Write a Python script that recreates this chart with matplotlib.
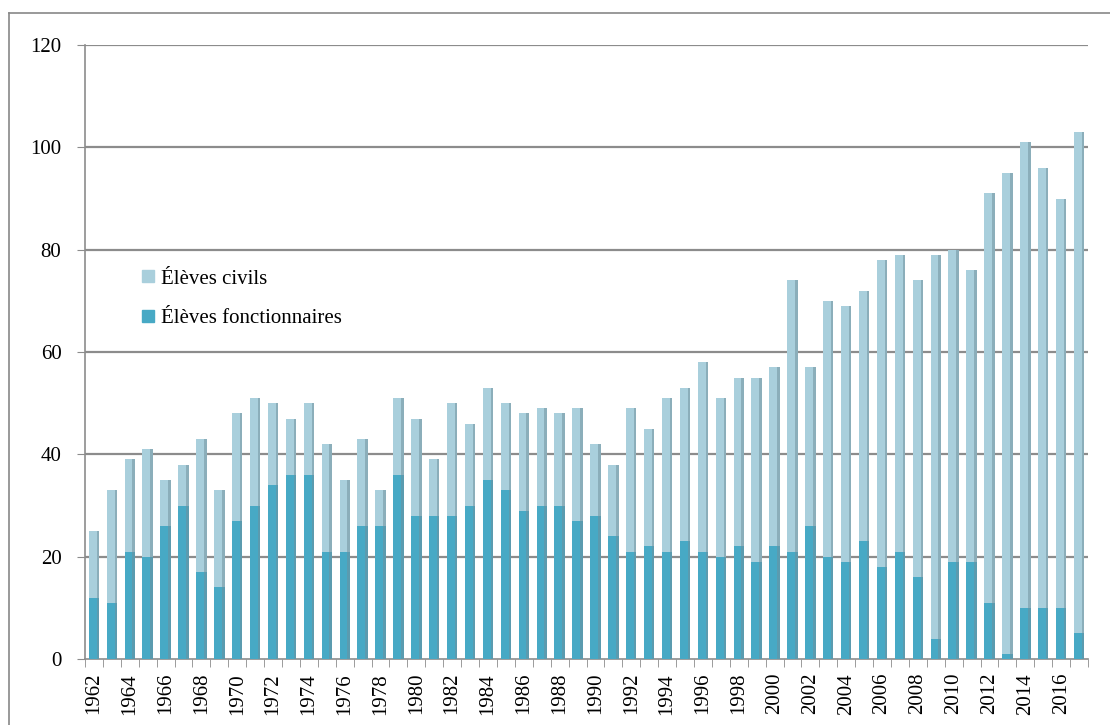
import numpy as np
import matplotlib
matplotlib.use("Agg")
import matplotlib.pyplot as plt
from matplotlib.lines import Line2D

years = list(range(1962, 2018))
totals = [25, 33, 39, 41, 35, 38, 43, 33, 48, 51, 50, 47, 50, 42, 35, 43, 33, 51, 47, 39,
          50, 46, 53, 50, 48, 49, 48, 49, 42, 38, 49, 45, 51, 53, 58, 51, 55, 55, 57, 74,
          57, 70, 69, 72, 78, 79, 74, 79, 80, 76, 91, 95, 101, 96, 90, 103]
fonctionnaires = [12, 11, 21, 20, 26, 30, 17, 14, 27, 30, 34, 36, 36, 21, 21, 26, 26, 36, 28, 28,
                  28, 30, 35, 33, 29, 30, 30, 27, 28, 24, 21, 22, 21, 23, 21, 20, 22, 19, 22, 21,
                  26, 20, 19, 23, 18, 21, 16, 4, 19, 19, 11, 1, 10, 10, 10, 5]
civils = [t - f for t, f in zip(totals, fonctionnaires)]

c_civ = "#a9cfdc"
c_fon = "#47a9c5"
serif = ["Liberation Serif", "DejaVu Serif"]

fig = plt.figure(figsize=(11.1, 7.25), dpi=100)
ax = fig.add_axes([85 / 1110, 1 - 659 / 725, 1003 / 1110, 614 / 725])

x = np.arange(len(years))
w = 0.58
ax.bar(x, fonctionnaires, width=w, color=c_fon, zorder=3, label="Élèves fonctionnaires")
ax.bar(x, civils, width=w, bottom=fonctionnaires, color=c_civ, zorder=3, label="Élèves civils")
# darker right side, a rough take on the 3D look
ax.bar(x + w / 2 - 0.07, totals, width=0.14, color="#6f8f9a", alpha=0.5, zorder=4)

ax.set_xlim(-0.5, len(years) - 0.5)
ax.set_ylim(0, 120)
ax.set_yticks(range(0, 121, 20))
for yv in range(20, 121, 20):
    ax.axhline(yv, color="#8c8c8c", lw=1.6, zorder=1)

ax.set_xticks(x[::2])
ax.set_xticklabels([str(y) for y in years[::2]], rotation=90, family=serif, fontsize=15)
ax.set_xticks(np.arange(-0.5, len(years), 1), minor=True)
ax.tick_params(axis="x", which="major", length=0, pad=10)
ax.tick_params(axis="x", which="minor", length=6, color="#8c8c8c")
ax.tick_params(axis="y", length=6, color="#8c8c8c", pad=11)
for lab in ax.get_yticklabels():
    lab.set_family(serif)
    lab.set_fontsize(15)

for s in ["top", "right"]:
    ax.spines[s].set_visible(False)
ax.spines["left"].set_color("#8c8c8c")
ax.spines["bottom"].set_color("#8c8c8c")
ax.spines["left"].set_linewidth(1.2)
ax.spines["bottom"].set_linewidth(1.2)

handles = [Line2D([], [], marker="s", ls="", color=c_civ, markersize=8),
           Line2D([], [], marker="s", ls="", color=c_fon, markersize=8)]
ax.legend(handles, ["Élèves civils", "Élèves fonctionnaires"], loc="center left",
          bbox_to_anchor=(0.037, 0.587), frameon=False, handlelength=0.7, handletextpad=0.25,
          labelspacing=0.95, prop={"family": serif, "size": 15})

# outer frame (top and left edges visible)
fig.add_artist(Line2D([9 / 1110, 9 / 1110], [0, 1 - 13 / 725], color="#888888", lw=1.2))
fig.add_artist(Line2D([9 / 1110, 1], [1 - 13 / 725, 1 - 13 / 725], color="#888888", lw=1.2))

fig.savefig("out.png", dpi=100)
